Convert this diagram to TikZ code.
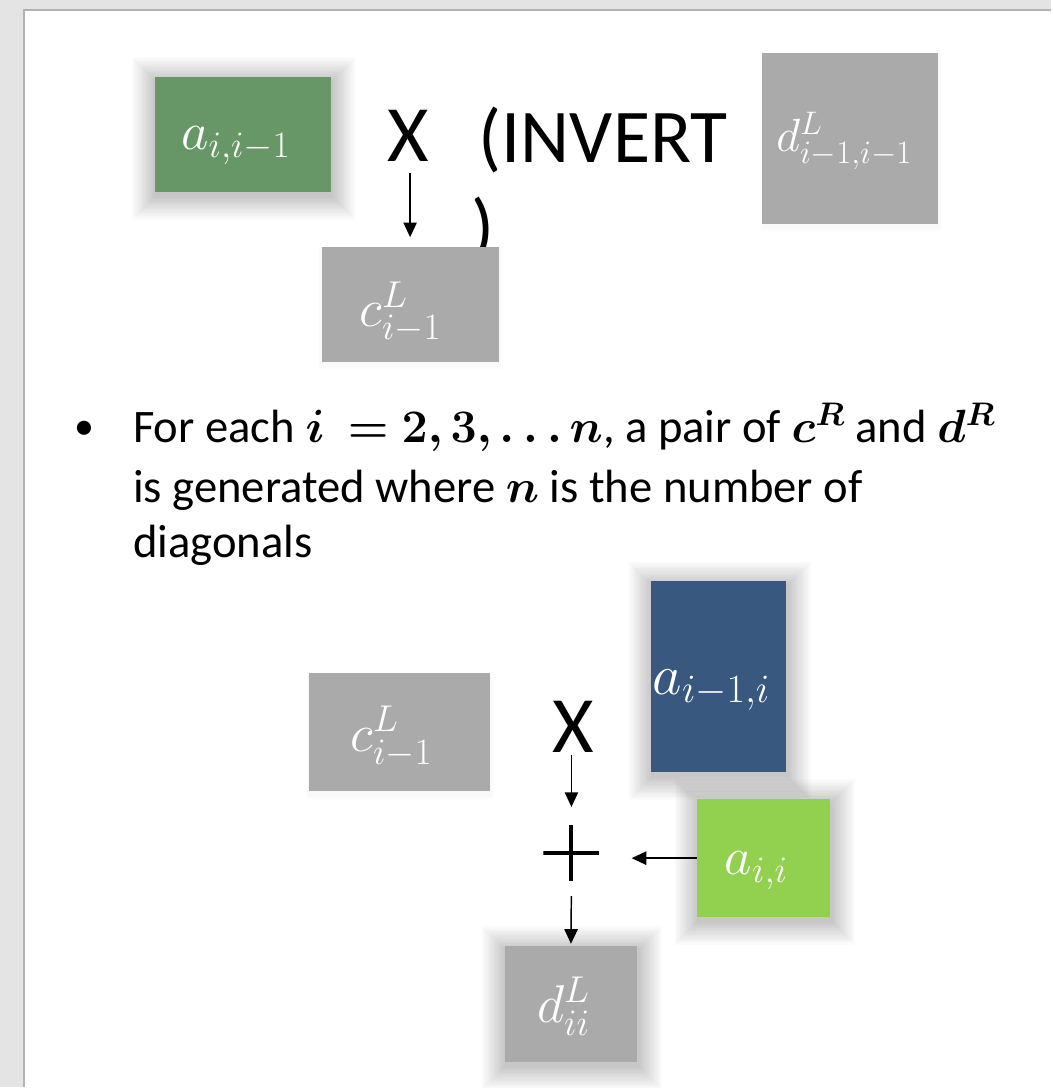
\RequirePackage{fix-cm}
\documentclass[tikz,border=0pt]{standalone}
\usepackage{amsmath,bm}
\usepackage{fontspec}
\setmainfont{Carlito}
\usetikzlibrary{arrows.meta}
\definecolor{outerbg}{RGB}{228,228,228}
\definecolor{framec}{RGB}{178,178,178}
\definecolor{cgreen}{RGB}{103,151,103}
\definecolor{cblue}{RGB}{56,88,128}
\definecolor{clgreen}{RGB}{146,208,80}
\definecolor{cgray}{RGB}{170,170,170}
\newcommand\symfnt{\fontsize{60}{72}\selectfont}
\newcommand\txtfnt{\fontsize{35}{42}\selectfont}
% soft shadow: centre x, centre y, width, height (px), layers, opacity
\newcommand\glowat[6]{%
  \foreach \k in {1,...,#5}{%
    \fill[black, fill opacity=#6]
      ({#1-#3/2-\k*1.7+1},{#2-#4/2-\k*1.7+4}) rectangle ({#1+#3/2+\k*1.7+1},{#2+#4/2+\k*1.7+4});}}
\tikzset{
  mbox/.style={rectangle, inner sep=0pt, draw=none},
  mlabel/.style={inner sep=0pt, anchor=base, text=white, font=\fontsize{40}{48}\selectfont},
  arr/.style={-{Triangle[width=10pt,length=11pt]}, line width=1.1pt},
  sym/.style={inner sep=0pt, font=\symfnt},
  txt/.style={inner sep=0pt, anchor=base west, font=\txtfnt},
  plusnode/.style={inner sep=0pt, minimum size=42pt, path picture={
      \draw[line width=3pt] (path picture bounding box.north) -- (path picture bounding box.south)
        (path picture bounding box.west) -- (path picture bounding box.east);}},
}
\begin{document}
\begin{tikzpicture}[x=0.75pt,y=-0.75pt]
\fill[outerbg] (0,0) rectangle (1052,1088);
\fill[white] (24,10) rectangle (1052,1088);
\draw[framec, line width=1.6pt] (24,1088) -- (24,10) -- (1052,10);
\useasboundingbox (0,0) rectangle (1052,1088);

% shadows
\glowat{243}{134.5}{176}{115}{14}{0.017}
\glowat{851}{138.5}{176}{171}{2}{0.012}
\glowat{410.5}{304.5}{177}{115}{2}{0.012}
\glowat{399.5}{733}{181}{118}{2}{0.012}
\glowat{719.5}{677.5}{135}{191}{14}{0.017}
\glowat{764.5}{859}{133}{118}{14}{0.017}
\glowat{571.5}{1005}{133}{116}{14}{0.017}

% top part
\node[mbox, fill=cgreen, minimum width=132pt, minimum height=86.25pt] (aim) at (243,134.5) {};
\node[mlabel] (aim-t) at (236,150) {$a_{i,i-1}$};
\node[sym, anchor=base] (x1) at (409,162) {X};
\node[sym, anchor=base west, font=\fontsize{57}{68}\selectfont] (inv) at (479,163) {(INVERT};
\node[sym, anchor=base west, font=\fontsize{57}{68}\selectfont] (rp) at (472,253) {)};
\node[mbox, fill=cgray, minimum width=132pt, minimum height=128.25pt] (dprev) at (851,138.5) {};
\node[mlabel, font=\fontsize{35}{42}\selectfont] (dprev-t) at (845,152) {$d^L_{i-1,i-1}$};
\node[mbox, fill=cgray, minimum width=132.75pt, minimum height=86.25pt] (c1) at (410.5,304.5) {};
\node[mlabel] (c1-t) at (401,327) {$c^L_{i-1}$};
\draw[arr, shorten <=8pt, shorten >=7pt] (x1.south -| c1.north) -- (c1.north);

% bullet text
\node[txt, font=\fontsize{30}{36}\selectfont] (bul) at (74,440) {\textbullet};
\node[txt] (l1) at (133,443) {For each $\bm{i\ =2,3,\ldots n}$, a pair of $\bm{c^R}$ and $\bm{d^R}$};
\node[txt] (l2) at (133,503) {is generated where $\bm{n}$ is the number of};
\node[txt] (l3) at (133,558) {diagonals};

% bottom part
\node[mbox, fill=cgray, minimum width=135.75pt, minimum height=88.5pt] (c2) at (399.5,733) {};
\node[mlabel] (c2-t) at (392,752) {$c^L_{i-1}$};
\node[mbox, fill=cblue, minimum width=101.25pt, minimum height=143.25pt] (aup) at (719.5,677.5) {};
\node[mlabel, font=\fontsize{43}{50}\selectfont] (aup-t) at (712,695) {$a_{i-1,i}$};
\node[sym, anchor=base] (x2) at (574,753) {X};
\node[plusnode] (p) at (572,854) {};
\node[mbox, fill=clgreen, minimum width=99.75pt, minimum height=88.5pt] (aii) at (764.5,859) {};
\node[mlabel] (aii-t) at (757,875) {$a_{i,i}$};
\node[mbox, fill=cgray, minimum width=99.75pt, minimum height=87pt] (dii) at (571.5,1005) {};
\node[mlabel] (dii-t) at (564,1023) {$d^L_{ii}$};

\draw[arr, shorten <=1.5pt, shorten >=13.5pt] (p.north |- x2.south) -- (p.north);
\draw[arr, shorten >=24pt] (aii.west) -- (aii.west -| p.east);
\draw[arr, shorten <=11pt, shorten >=1.5pt] (p.south) -- (dii.north);
\end{tikzpicture}
\end{document}
